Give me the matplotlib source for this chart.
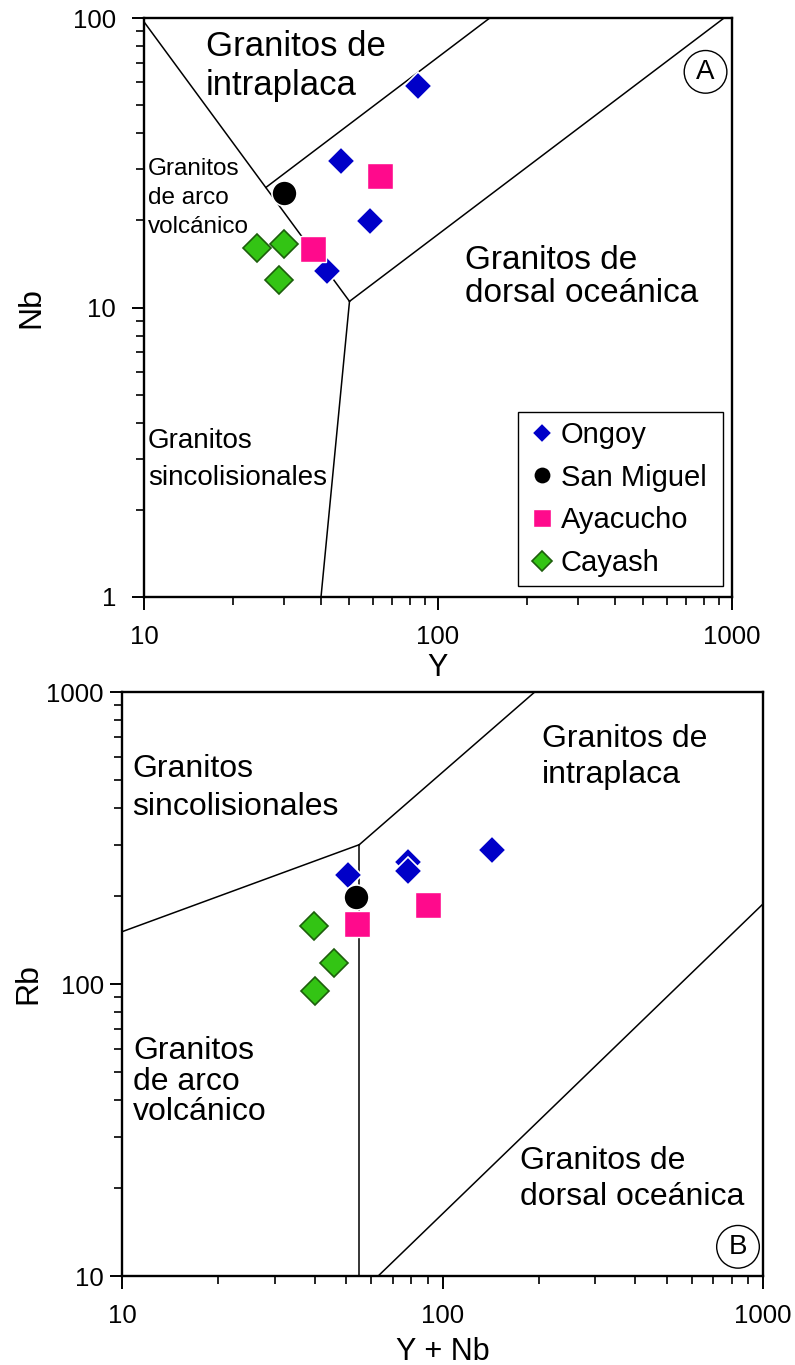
import matplotlib
matplotlib.use('Agg')
import matplotlib.pyplot as plt
from matplotlib import font_manager
from matplotlib.lines import Line2D
from matplotlib.ticker import LogLocator, NullFormatter, FixedLocator

plt.rcParams['font.family'] = ['Liberation Sans', 'DejaVu Sans']

# --- data: Nb vs Y (panel A)
ongoy_y = [85.7, 46.7, 58.7, 41.8]
ongoy_nb = [58.4, 32.1, 19.9, 13.4]
sanmiguel_y = [29.9]
sanmiguel_nb = [24.9]
ayacucho_y = [63.5, 37.7]
ayacucho_nb = [28.5, 15.9]
cayash_y = [24.2, 29.9, 28.8]
cayash_nb = [16.0, 16.6, 12.4]

# --- data: Rb vs Y+Nb (panel B)
ongoy_ynb = [50.8, 77.9, 77.9, 142.4]
ongoy_rb = [236, 262, 243, 288]
sanmiguel_ynb = [53.7]
sanmiguel_rb = [199]
ayacucho_ynb = [54.0, 89.9]
ayacucho_rb = [161, 187]
cayash_ynb = [39.8, 45.8, 40.0]
cayash_rb = [158, 118, 94.6]

# field boundaries (x values, y values)
bounds_a = [
    ([10, 50], [97, 10.5]),
    ([26, 150], [26, 100]),
    ([50, 940], [10.5, 100]),
    ([50, 40], [10.5, 1]),
]
bounds_b = [
    ([10, 55], [151, 300]),
    ([55, 194], [300, 1000]),
    ([55, 55], [300, 10]),
    ([63, 1000], [10, 188]),
]

names = {f.name for f in font_manager.fontManager.ttflist}
narrow = 'Liberation Sans Narrow' if 'Liberation Sans Narrow' in names else 'Liberation Sans'

BLUE = '#0000c8'
PINK = '#ff0a8c'
GREEN = '#33c414'
GREEN_EDGE = '#1d5e0c'

styles = {
    'Ongoy': dict(marker='D', ms=14, mfc=BLUE, mec='white', mew=1.2),
    'San Miguel': dict(marker='o', ms=18, mfc='black', mec='white', mew=1.2),
    'Ayacucho': dict(marker='s', ms=19, mfc=PINK, mec='white', mew=1.0),
    'Cayash': dict(marker='D', ms=14, mfc=GREEN, mec=GREEN_EDGE, mew=1.2),
}


def setup_axis(ax, xlim, ylim, yticks):
    ax.set_xscale('log')
    ax.set_yscale('log')
    ax.set_xlim(*xlim)
    ax.set_ylim(*ylim)
    ax.xaxis.set_major_locator(FixedLocator([10, 100, 1000]))
    ax.set_xticklabels(['10', '100', '1000'])
    ax.yaxis.set_major_locator(FixedLocator(yticks))
    ax.set_yticklabels([str(t) for t in yticks])
    for axis in (ax.xaxis, ax.yaxis):
        axis.set_minor_locator(LogLocator(base=10, subs=range(2, 10)))
        axis.set_minor_formatter(NullFormatter())
    ax.tick_params(which='major', direction='out', length=9, width=1.4,
                   labelsize=18.5, top=False, right=False)
    ax.tick_params(which='minor', direction='out', length=6, width=1.2,
                   top=False, right=False)
    for s in ax.spines.values():
        s.set_linewidth(1.7)


def draw_bounds(ax, bounds):
    for xs, ys in bounds:
        ax.plot(xs, ys, color='black', lw=1.1, zorder=1)


def field_label(ax, x, y, text, size, spacing, family=None):
    # y is the baseline of the last line, in axes fraction
    ax.text(x, y, text, transform=ax.transAxes, fontsize=size, family=family,
            va='baseline', ha='left', linespacing=spacing)


fig = plt.figure(figsize=(7.95, 13.65), dpi=100)

# ---------- panel A
ax1 = fig.add_axes([144 / 795, 1 - 597 / 1365, 588 / 795, 579 / 1365])
setup_axis(ax1, (10, 1000), (1, 100), [1, 10, 100])
ax1.tick_params(axis='x', pad=11)
ax1.tick_params(axis='y', pad=11)
draw_bounds(ax1, bounds_a)
ax1.plot(ongoy_y, ongoy_nb, ls='none', zorder=3, **styles['Ongoy'])
ax1.plot(sanmiguel_y, sanmiguel_nb, ls='none', zorder=3, **styles['San Miguel'])
ax1.plot(ayacucho_y, ayacucho_nb, ls='none', zorder=3, **styles['Ayacucho'])
ax1.plot(cayash_y, cayash_nb, ls='none', zorder=3, **styles['Cayash'])
ax1.set_xlabel('Y', fontsize=22, labelpad=3)
ax1.set_ylabel('Nb', fontsize=23, labelpad=19)

field_label(ax1, 0.105, 0.867, 'Granitos de\nintraplaca', 25, 1.25)
field_label(ax1, 0.007, 0.629, 'Granitos\nde arco\nvolcánico', 17.5, 1.42, narrow)
field_label(ax1, 0.546, 0.509, 'Granitos de\ndorsal oceánica', 24, 1.1)
field_label(ax1, 0.007, 0.193, 'Granitos\nsincolisionales', 20, 1.55, narrow)
ax1.text(0.955, 0.907, 'A', transform=ax1.transAxes, fontsize=20, family=narrow,
         ha='center', va='center',
         bbox=dict(boxstyle='circle,pad=0.3', fc='white', ec='black', lw=1.0))

handles = [Line2D([], [], ls='none', **dict(styles[k], ms=styles[k]['ms'] * 0.7))
           for k in styles]
leg = ax1.legend(handles, list(styles.keys()), loc='upper left',
                 bbox_to_anchor=(518 / 795, 1 - 587 / 1365, 205 / 795, 175 / 1365),
                 bbox_transform=fig.transFigure, mode='expand',
                 fontsize=21, frameon=True, fancybox=False, framealpha=1,
                 edgecolor='black', borderpad=0.31, labelspacing=0.5,
                 handlelength=1.0, handletextpad=0.15, borderaxespad=0)
leg.get_frame().set_linewidth(1.0)

# ---------- panel B
ax2 = fig.add_axes([122 / 795, 1 - 1276 / 1365, 641 / 795, 584 / 1365])
setup_axis(ax2, (10, 1000), (10, 1000), [10, 100, 1000])
ax2.tick_params(axis='x', pad=11)
ax2.tick_params(axis='y', pad=4)
draw_bounds(ax2, bounds_b)
ax2.plot(ongoy_ynb, ongoy_rb, ls='none', zorder=3, **styles['Ongoy'])
ax2.plot(sanmiguel_ynb, sanmiguel_rb, ls='none', zorder=3, **styles['San Miguel'])
ax2.plot(ayacucho_ynb, ayacucho_rb, ls='none', zorder=3, **styles['Ayacucho'])
ax2.plot(cayash_ynb, cayash_rb, ls='none', zorder=3, **styles['Cayash'])
ax2.set_xlabel('Y + Nb', fontsize=22, labelpad=7)
ax2.set_ylabel('Rb', fontsize=23, labelpad=2)

field_label(ax2, 0.016, 0.789, 'Granitos\nsincolisionales', 23, 1.35)
field_label(ax2, 0.655, 0.844, 'Granitos de\nintraplaca', 23, 1.25)
field_label(ax2, 0.017, 0.267, 'Granitos\nde arco\nvolcánico', 23, 1.02)
field_label(ax2, 0.621, 0.122, 'Granitos de\ndorsal oceánica', 23, 1.25)
ax2.text(0.961, 0.050, 'B', transform=ax2.transAxes, fontsize=20, family=narrow,
         ha='center', va='center',
         bbox=dict(boxstyle='circle,pad=0.3', fc='white', ec='black', lw=1.0))

fig.savefig('out.png', dpi=100)
